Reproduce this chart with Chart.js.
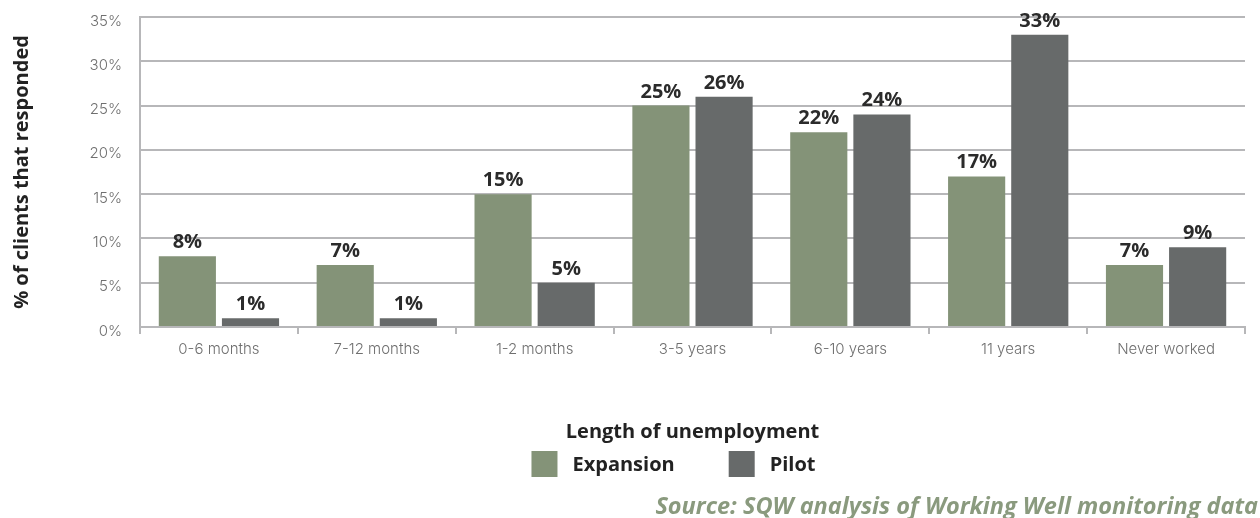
<!DOCTYPE html>
<html>
<head>
<meta charset="utf-8">
<script src="https://cdn.jsdelivr.net/npm/chart.js@4/dist/chart.umd.min.js"></script>
<style>
  html, body { margin: 0; padding: 0; background: #fff; }
  #wrap { width: 1260px; height: 518px; }
</style>
</head>
<body>
<div id="wrap"><canvas id="chart" width="1260" height="518"></canvas></div>
<script>
// ─── DATA ────────────────────────────────────────────────────
const categories = ['0-6 months', '7-12 months', '1-2 months', '3-5 years', '6-10 years', '11 years', 'Never worked'];
const expansion  = [8, 7, 15, 25, 22, 17, 7];
const pilot      = [1, 1, 5, 26, 24, 33, 9];
const yTicks     = [0, 5, 10, 15, 20, 25, 30, 35];
const sourceNote = 'Source: SQW analysis of Working Well monitoring data';

const GREEN = '#849378';
const GREY  = '#676a6a';
const GRID  = '#b7b7b9';
const BOLD  = '"Open Sans", Roboto, sans-serif';
const LIGHT = 'Inter, Roboto, sans-serif';

// ─── VALUE LABELS ABOVE BARS ─────────────────────────────────
const barValues = {
    id: 'barValues',
    afterDatasetsDraw(chart) {
        const ctx = chart.ctx;
        ctx.save();
        ctx.font = 'bold 20px ' + BOLD;
        ctx.fillStyle = '#2b2b2b';
        ctx.textAlign = 'center';
        ctx.textBaseline = 'alphabetic';
        chart.data.datasets.forEach((ds, i) => {
            chart.getDatasetMeta(i).data.forEach((bar, j) => {
                ctx.fillText(ds.data[j] + '%', bar.x, bar.y - 8);
            });
        });
        ctx.restore();
    }
};

// ─── LEGEND + SOURCE NOTE ────────────────────────────────────
const swatchLegend = {
    id: 'swatchLegend',
    afterDraw(chart) {
        const ctx = chart.ctx;
        const box = 26, textGap = 15, itemGap = 54, cy = 464;
        ctx.save();
        ctx.font = 'bold 20px ' + BOLD;
        ctx.textBaseline = 'middle';
        const items = chart.data.datasets.map(ds => ({
            label: ds.label,
            color: ds.backgroundColor,
            w: box + textGap + ctx.measureText(ds.label).width
        }));
        const total = items.reduce((s, it) => s + it.w, 0) + itemGap * (items.length - 1);
        let x = (chart.chartArea.left + chart.chartArea.right) / 2 - total / 2 - 19;
        items.forEach(it => {
            ctx.fillStyle = it.color;
            ctx.fillRect(x, cy - box / 2, box, box);
            ctx.fillStyle = '#222';
            ctx.fillText(it.label, x + box + textGap, cy + 1);
            x += it.w + itemGap;
        });

        ctx.font = 'italic bold 23.5px ' + BOLD;
        ctx.fillStyle = '#8a9a7e';
        ctx.textAlign = 'right';
        ctx.textBaseline = 'alphabetic';
        ctx.fillText(sourceNote, chart.width - 2, chart.height - 4);
        ctx.restore();
    }
};

// ─── CHART ───────────────────────────────────────────────────
new Chart(document.getElementById('chart'), {
    type: 'bar',
    data: {
        labels: categories,
        datasets: [
            { label: 'Expansion', data: expansion, backgroundColor: GREEN, borderWidth: 0 },
            { label: 'Pilot',     data: pilot,     backgroundColor: GREY,  borderWidth: 0 }
        ]
    },
    options: {
        responsive: false,
        animation: false,
        categoryPercentage: 0.8,
        barPercentage: 0.905,
        layout: { padding: { top: 17, right: 15, left: 0, bottom: 0 } },
        plugins: {
            tooltip: { enabled: false },
            legend: { display: false }
        },
        scales: {
            x: {
                grid: {
                    offset: true,
                    drawOnChartArea: false,
                    tickLength: 7,
                    lineWidth: 2,
                    color: c => c.index === categories.length ? '#222' : GRID
                },
                border: { color: GRID, width: 2 },
                ticks: {
                    color: '#6f6f6f',
                    padding: 6,
                    font: { family: LIGHT, size: 15, weight: 300 }
                },
                title: {
                    display: true,
                    text: 'Length of unemployment',
                    color: '#222',
                    font: { family: BOLD, size: 20, weight: 'bold' },
                    padding: { top: 56, bottom: 74 }
                }
            },
            y: {
                min: 0,
                max: 35,
                afterBuildTicks: s => { s.ticks = yTicks.map(v => ({ value: v })); },
                afterFit: s => { s.width = 140; s.paddingTop = 0; },
                grid: { color: GRID, lineWidth: 2, drawTicks: false },
                border: { color: GRID, width: 2 },
                ticks: {
                    color: '#6f6f6f',
                    padding: 18,
                    labelOffset: 4,
                    font: { family: LIGHT, size: 15, weight: 300 },
                    callback: v => v + '%'
                },
                title: {
                    display: true,
                    text: '% of clients that responded',
                    color: '#222',
                    font: { family: BOLD, size: 20, weight: 'bold' },
                    padding: { top: 10, bottom: 0 }
                }
            }
        }
    },
    plugins: [barValues, swatchLegend]
});
</script>
</body>
</html>
